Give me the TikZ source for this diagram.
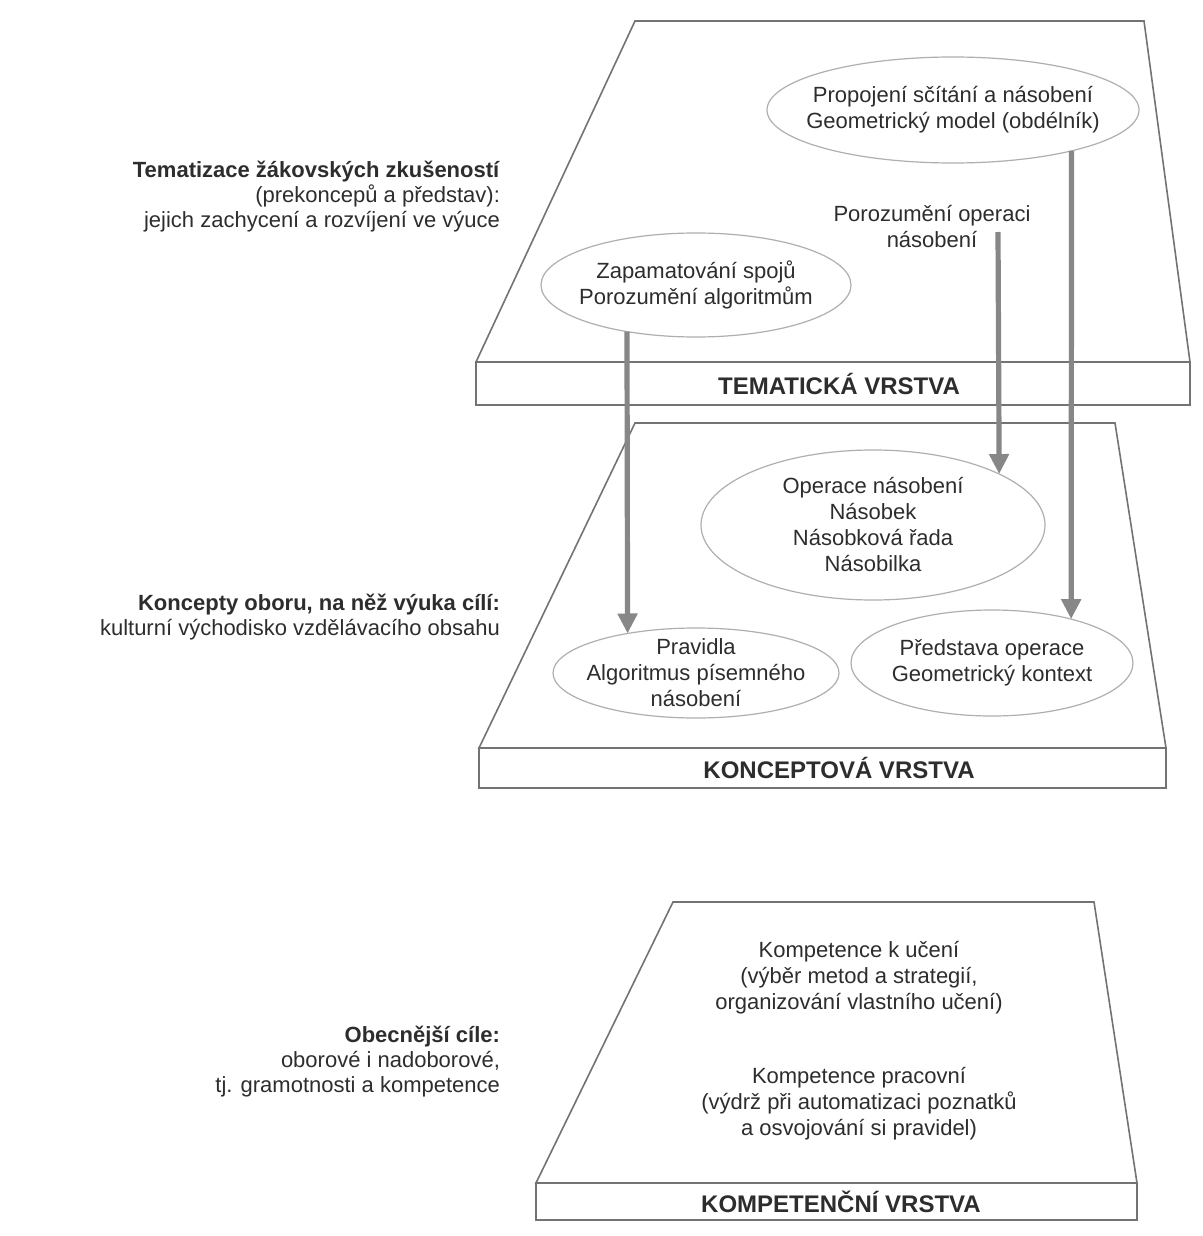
\documentclass[tikz,border=0pt]{standalone}
\usepackage{fontspec}
\setmainfont{Liberation Sans}
\usetikzlibrary{arrows.meta,shapes.geometric}
\definecolor{LayerGray}{RGB}{115,115,115}
\definecolor{OvalGray}{RGB}{175,175,175}
\definecolor{ArrowGray}{RGB}{135,135,135}
\definecolor{InkGray}{RGB}{45,45,45}

\begin{document}
\begin{tikzpicture}[
  x=0.5pt,y=-0.5pt,
  layer/.style={draw=LayerGray,line width=0.8pt,fill=white},
  oval/.style={ellipse,draw=OvalGray,line width=0.6pt,inner sep=0pt,outer sep=0pt},
  txt/.style={align=center,text=InkGray,font=\fontsize{11}{13}\selectfont},
  side/.style={align=right,anchor=east,text=InkGray,font=\fontsize{11}{12.5}\selectfont},
  layername/.style={text=InkGray,font=\fontsize{12}{14}\selectfont\bfseries},
  arr/.style={-{Triangle[length=10pt,width=9.5pt]},line width=2.6pt,ArrowGray}
]
\useasboundingbox (0,0) rectangle (1203,1236);

% layers
\draw[layer] (635,21) -- (1144,21) -- (1190,362) -- (476,362) -- cycle;
\draw[layer] (476,362) rectangle (1190,405);
\draw[layer] (635,423) -- (1115,423) -- (1166,748) -- (479,748) -- cycle;
\draw[layer] (479,748) rectangle (1166,788);
\draw[layer] (673,902) -- (1094,902) -- (1137,1183) -- (536,1183) -- cycle;
\draw[layer] (536,1183) rectangle (1137,1220);

\node[layername] (tem) at (839,384) {TEMATICKÁ VRSTVA};
\node[layername] (kon) at (839,768) {KONCEPTOVÁ VRSTVA};
\node[layername] (kom) at (841,1202) {KOMPETENČNÍ VRSTVA};

% ovals
\node[oval,minimum width=186pt,minimum height=53pt] (prop) at (953,110) {};
\node[oval,minimum width=155pt,minimum height=52pt] (zap) at (696,285) {};
\node[oval,minimum width=172pt,minimum height=75pt] (oper) at (873,525) {};
\node[oval,minimum width=143pt,minimum height=45pt] (prav) at (696,673) {};
\node[oval,minimum width=141pt,minimum height=53pt] (pred) at (992,663) {};

\node[txt] (prop-t) at (prop) {Propojení sčítání a násobení\\Geometrický model (obdélník)};
\node[txt] (poroz) at (932,227) {Porozumění operaci\\násobení};
\node[txt] (zap-t) at (zap) {Zapamatování spojů\\Porozumění algoritmům};
\node[txt] (oper-t) at (oper) {Operace násobení\\Násobek\\Násobková řada\\Násobilka};
\node[txt] (prav-t) at (prav) {Pravidla\\Algoritmus písemného\\násobení};
\node[txt] (pred-t) at (pred) {Představa operace\\Geometrický kontext};
\node[txt] (uceni) at (859,978) {Kompetence k učení\\(výběr metod a strategií,\\organizování vlastního učení)};
\node[txt] (prac) at (859,1104) {Kompetence pracovní\\(výdrž při automatizaci poznatků\\a osvojování si pravidel)};

% side labels
\node[side] (tem-l) at (507,197) {\textbf{Tematizace žákovských zkušeností}\\(prekoncepů a představ):\\jejich zachycení a rozvíjení ve výuce};
\node[side] (kon-l) at (507,617) {\textbf{Koncepty oboru, na něž výuka cílí:}\\kulturní východisko vzdělávacího obsahu};
\node[side] (kom-l) at (507,1062) {\textbf{Obecnější cíle:}\\oborové i nadoborové,\\tj. gramotnosti a kompetence};

% arrows
\coordinate (midtop) at (998,232);
\draw[arr] (zap.214) -- (prav.150.3);
\draw[arr] (midtop) -- (oper.22.4);
\draw[arr] (prop.-19.4) -- (pred.29.5);
\end{tikzpicture}
\end{document}
